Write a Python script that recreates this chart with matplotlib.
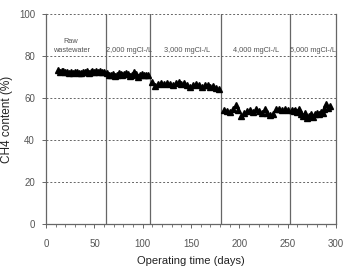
import numpy as np
import matplotlib
matplotlib.use("Agg")
import matplotlib.pyplot as plt
from matplotlib.ticker import MultipleLocator

plt.rcParams['font.family'] = ['Liberation Sans', 'DejaVu Sans']

# datos (dias, % CH4)
dias_raw = [12, 14, 16, 18, 20, 22, 24, 26, 28, 30, 32, 34, 36, 38, 40, 42, 44, 46, 48, 50, 52, 54, 56, 58, 60]
ch4_raw = [73.5, 72.5, 73.0, 72.8, 72.2, 72.6, 72.0, 72.4, 71.8, 72.3, 72.6, 72.1, 71.9,
           72.5, 72.2, 72.8, 72.0, 72.6, 73.0, 72.4, 72.7, 72.2, 72.9, 72.5, 72.3]

dias_2000 = [63, 65, 67, 69, 71, 73, 75, 77, 79, 81, 83, 85, 87, 89, 91, 93, 95, 97, 99, 101, 103, 105]
ch4_2000 = [71.8, 71.2, 70.8, 71.5, 70.6, 71.0, 71.7, 71.3, 70.9, 71.6, 72.0, 71.4, 70.7,
            71.1, 72.3, 71.5, 70.2, 70.8, 71.4, 70.9, 71.2, 71.0]

dias_3000 = [110, 113, 116, 119, 122, 125, 128, 131, 134, 137, 140, 143, 146, 149, 152, 155,
             158, 161, 164, 167, 170, 173, 176, 179]
ch4_3000 = [67.5, 65.8, 66.8, 67.0, 66.5, 67.3, 66.9, 66.2, 67.1, 67.8, 66.6, 67.4, 66.0,
            65.4, 66.2, 66.8, 66.1, 65.5, 66.3, 66.0, 65.3, 65.6, 64.9, 64.4]

dias_4000 = [184, 187, 190, 193, 196, 199, 202, 205, 208, 211, 214, 217, 220, 223, 226, 229,
             232, 235, 238, 241, 244, 247, 250]
ch4_4000 = [54.5, 53.8, 53.5, 54.8, 56.8, 54.2, 51.5, 52.8, 53.9, 54.5, 53.2, 54.6, 53.8,
            52.9, 54.7, 53.1, 51.8, 52.3, 54.6, 54.9, 54.2, 54.8, 54.4]

dias_5000 = [254, 256, 258, 260, 262, 264, 266, 268, 270, 272, 274, 276, 278, 280, 282, 284,
             286, 288, 290, 292, 294]
ch4_5000 = [54.3, 53.8, 54.1, 53.2, 54.6, 52.4, 51.3, 52.8, 50.7, 51.5, 52.6, 51.0, 52.5,
            53.0, 52.2, 53.5, 52.8, 54.9, 57.1, 55.3, 56.0]

cambios = [62, 107, 181, 252]
etiquetas = ["Raw\nwastewater", "2,000 mgCl-/L", "3,000 mgCl-/L", "4,000 mgCl-/L", "5,000 mgCl-/L"]
pos_etiquetas = [26, 86, 146, 217, 276]

dias = dias_raw + dias_2000 + dias_3000 + dias_4000 + dias_5000
ch4 = ch4_raw + ch4_2000 + ch4_3000 + ch4_4000 + ch4_5000

fig = plt.figure(figsize=(3.44, 2.66), dpi=100)
ax = fig.add_axes([0.134, 0.158, 0.843, 0.789])

gris = '#666666'
for yv in [20, 40, 60, 80, 100]:
    ax.axhline(yv, color=gris, linestyle=(0, (2, 2)), linewidth=0.7, zorder=1)
for xv in cambios:
    ax.axvline(xv, color=gris, linewidth=0.9, zorder=1)

ax.plot(dias, ch4, linestyle='none', marker='^', color='black', markersize=5, zorder=3)

for txt, xp in zip(etiquetas, pos_etiquetas):
    ax.text(xp, 81.2, txt, ha='center', va='bottom', fontsize=5.3, color='#555555',
            linespacing=1.4)

ax.set_xlim(0, 300)
ax.set_ylim(0, 100)
ax.xaxis.set_major_locator(MultipleLocator(50))
ax.xaxis.set_minor_locator(MultipleLocator(10))
ax.yaxis.set_major_locator(MultipleLocator(20))
ax.tick_params(axis='both', which='major', labelsize=7, colors=gris, labelcolor='#555555',
               direction='out', length=3, width=0.7)
ax.tick_params(axis='x', which='minor', direction='out', length=2.5, width=0.6, colors=gris)
ax.tick_params(axis='x', pad=8)
ax.tick_params(axis='y', pad=5)

ax.spines['top'].set_visible(False)
for s in ['left', 'bottom', 'right']:
    ax.spines[s].set_color(gris)
    ax.spines[s].set_linewidth(0.9)

ax.set_xlabel('Operating time (days)', fontsize=8, color='#222222', labelpad=5)
ax.set_ylabel('CH4 content (%)', fontsize=8.5, color='#222222', labelpad=4)

plt.savefig('out.png', dpi=100)
